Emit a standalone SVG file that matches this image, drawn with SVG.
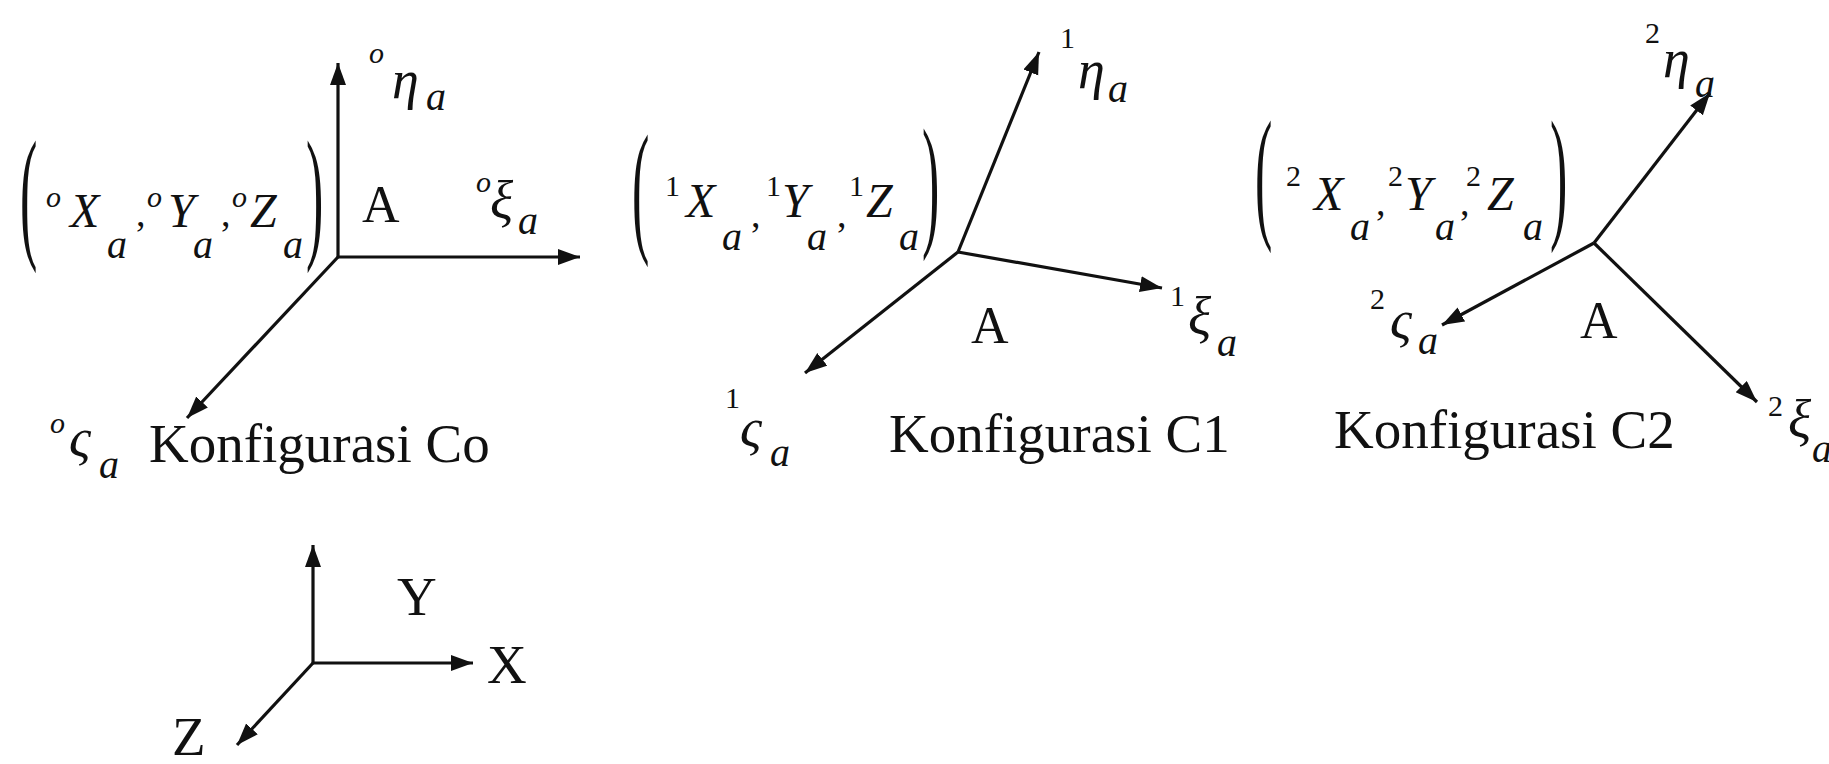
<svg xmlns="http://www.w3.org/2000/svg" width="1829" height="764" viewBox="0 0 1829 764">
<defs>
<marker id="ah" markerUnits="userSpaceOnUse" markerWidth="24" markerHeight="18" refX="22" refY="8" orient="auto">
<path d="M0,0 L22,8 L0,16 z" fill="#111"/>
</marker>
<style>
text{font-family:"Liberation Serif","Times New Roman",serif;fill:#111}
.ax{stroke:#111;stroke-width:3.2;fill:none;marker-end:url(#ah)}
.lbl{font-size:55px}
.cap{font-size:52px}
.var{font-style:italic;font-size:48px}
.sup{font-style:italic;font-size:30px}
.num{font-size:30px}
.sub{font-style:italic;font-size:40px}
.gr{font-style:italic;font-size:54px}
.sep{font-size:38px}
.paren{font-size:52px}
</style>
</defs>
<rect width="1829" height="764" fill="#fff"/>

<g id="connectors">
<line class="ax" x1="338" y1="257" x2="338" y2="63"/>
<line class="ax" x1="338" y1="257" x2="580" y2="257"/>
<line class="ax" x1="338" y1="257" x2="187" y2="418"/>
<line class="ax" x1="958" y1="252" x2="1039" y2="52"/>
<line class="ax" x1="958" y1="252" x2="1162" y2="288"/>
<line class="ax" x1="958" y1="252" x2="805" y2="373"/>
<line class="ax" x1="1594" y1="243" x2="1710" y2="93"/>
<line class="ax" x1="1594" y1="243" x2="1442" y2="325"/>
<line class="ax" x1="1594" y1="243" x2="1757" y2="402"/>
<line class="ax" x1="313" y1="663" x2="313" y2="545"/>
<line class="ax" x1="313" y1="663" x2="473" y2="663"/>
<line class="ax" x1="313" y1="663" x2="237" y2="745"/>
</g>

<g id="c0">
<text class="paren" transform="translate(20,242) scale(1,2.8)">(</text>
<text class="paren" transform="translate(306,242) scale(1,2.8)">)</text>
<text class="sup" x="46" y="207">o</text>
<text class="var" x="70" y="227">X</text>
<text class="sub" x="107" y="258">a</text>
<text class="sep" x="136" y="226">,</text>
<text class="sup" x="147" y="207">o</text>
<text class="var" x="168" y="227">Y</text>
<text class="sub" x="193" y="258">a</text>
<text class="sep" x="221" y="226">,</text>
<text class="sup" x="232" y="207">o</text>
<text class="var" x="250" y="227">Z</text>
<text class="sub" x="283" y="258">a</text>
<text class="cap" x="362" y="222">A</text>
<text class="sup" x="369" y="63">o</text>
<text class="gr" x="392" y="98">η</text>
<text class="sub" x="426" y="110">a</text>
<text class="sup" x="476" y="192">o</text>
<text class="gr" x="490" y="219">ξ</text>
<text class="sub" x="518" y="234">a</text>
<text class="sup" x="50" y="433">o</text>
<text class="gr" x="69" y="456">ς</text>
<text class="sub" x="99" y="478">a</text>
<text class="lbl" x="149" y="462">Konfigurasi Co</text>
</g>

<g id="c1">
<text class="paren" transform="translate(632,236) scale(1,2.8)">(</text>
<text class="paren" transform="translate(922,230) scale(1,2.8)">)</text>
<text class="num" x="665" y="196">1</text>
<text class="var" x="686" y="217">X</text>
<text class="sub" x="722" y="250">a</text>
<text class="sep" x="751" y="227">,</text>
<text class="num" x="766" y="196">1</text>
<text class="var" x="782" y="217">Y</text>
<text class="sub" x="807" y="250">a</text>
<text class="sep" x="837" y="227">,</text>
<text class="num" x="849" y="196">1</text>
<text class="var" x="866" y="217">Z</text>
<text class="sub" x="899" y="250">a</text>
<text class="cap" x="971" y="343">A</text>
<text class="num" x="1060" y="48">1</text>
<text class="gr" x="1078" y="88">η</text>
<text class="sub" x="1108" y="102">a</text>
<text class="num" x="1170" y="306">1</text>
<text class="gr" x="1188" y="335">ξ</text>
<text class="sub" x="1217" y="356">a</text>
<text class="num" x="725" y="408">1</text>
<text class="gr" x="740" y="446">ς</text>
<text class="sub" x="770" y="466">a</text>
<text class="lbl" x="889" y="452">Konfigurasi C1</text>
</g>

<g id="c2">
<text class="paren" transform="translate(1255,222) scale(1,2.8)">(</text>
<text class="paren" transform="translate(1550,222) scale(1,2.8)">)</text>
<text class="num" x="1286" y="186">2</text>
<text class="var" x="1314" y="210">X</text>
<text class="sub" x="1350" y="240">a</text>
<text class="sep" x="1376" y="215">,</text>
<text class="num" x="1388" y="186">2</text>
<text class="var" x="1405" y="210">Y</text>
<text class="sub" x="1435" y="240">a</text>
<text class="sep" x="1460" y="215">,</text>
<text class="num" x="1466" y="186">2</text>
<text class="var" x="1487" y="210">Z</text>
<text class="sub" x="1523" y="240">a</text>
<text class="cap" x="1580" y="338">A</text>
<text class="num" x="1645" y="43">2</text>
<text class="gr" x="1663" y="77">η</text>
<text class="sub" x="1695" y="97">a</text>
<text class="num" x="1370" y="309">2</text>
<text class="gr" x="1390" y="338">ς</text>
<text class="sub" x="1418" y="354">a</text>
<text class="num" x="1768" y="416">2</text>
<text class="gr" x="1788" y="438">ξ</text>
<text class="sub" x="1812" y="462">a</text>
<text class="lbl" x="1334" y="448">Konfigurasi C2</text>
</g>

<g id="axes">
<text class="lbl" x="397" y="615">Y</text>
<text class="lbl" x="487" y="683">X</text>
<text class="lbl" x="172" y="755">Z</text>
</g>
</svg>
